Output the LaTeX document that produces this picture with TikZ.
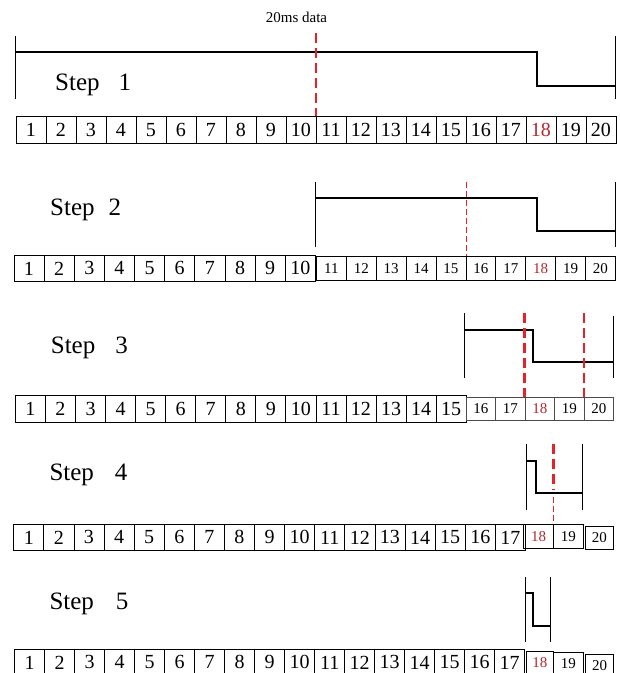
\documentclass[tikz,border=0pt]{standalone}
\usepackage{fontspec}
\setmainfont{Liberation Serif}
\definecolor{dashred}{RGB}{232,32,40}
\definecolor{numred}{RGB}{180,40,45}
\tikzset{
  cell/.style={draw, line width=0.8pt, anchor=north west, inner sep=0pt, font=\fontsize{20}{23}\selectfont},
  smallcell/.style={cell, font=\fontsize{15}{18}\selectfont},
  edge/.style={line width=0.8pt},
  wave/.style={line width=1.8pt},
  marker/.style={dashred, line width=2.2pt, dash pattern=on 10pt off 5pt},
  thinmarker/.style={dashred, line width=1.3pt, dash pattern=on 6pt off 3pt},
  steplabel/.style={anchor=base west, inner sep=0pt, font=\fontsize{25}{30}\selectfont},
}
\begin{document}
\begin{tikzpicture}[x=1pt,y=-1pt]
\useasboundingbox (0,0) rectangle (620,673);
\clip (0,0) rectangle (620,673);

% ---------- Step 1 ----------
\node[anchor=center, inner sep=0pt, font=\fontsize{15}{18}\selectfont] (t20) at (296.5,17.5) {20ms data};
\node[steplabel] (s1) at (55,90.5) {Step\hspace{19pt}1};
\foreach \i in {1,...,20} {
  \edef\tc{\ifnum\i=18 numred\else black\fi}
  \node[cell, text=\tc, minimum width=30pt, minimum height=27pt] (r1-\i) at ({15.5+30*(\i-1)},116) {\i};
}
\coordinate (a1t) at (15.7,36); \coordinate (a1b) at (15.7,99);
\coordinate (b1t) at (615,36);  \coordinate (b1b) at (615,99);
\draw[edge] (a1t) -- (a1b);
\draw[edge] (b1t) -- (b1b);
\draw[wave] (15.7,52.3) -- (536.7,52.3) -- (536.7,85.7) -- (615,85.7);
\coordinate (m1) at (316,33);
\draw[marker] (m1) -- (m1 |- r1-10.north east);

% ---------- Step 2 ----------
\node[steplabel] (s2) at (50,215) {Step\hspace{14pt}2};
\foreach \i in {1,...,10} {
  \node[cell, minimum width=30.15pt, minimum height=26pt] (r2-\i) at ({13.5+30.15*(\i-1)},255) {\i};
}
\foreach \i in {11,...,20} {
  \edef\tc{\ifnum\i=18 numred\else black\fi}
  \node[smallcell, text=\tc, minimum width=29.9pt, minimum height=23.5pt] (r2-\i) at ({316+29.9*(\i-11)},256) {\i};
}
\draw[edge] (315.7,182) -- (315.7,247);
\draw[edge] (615,182) -- (615,247);
\draw[wave] (315.7,198.3) -- (536.7,198.3) -- (536.7,231) -- (615,231);
\coordinate (m2) at (466.5,182);
\draw[thinmarker] (m2) -- (m2 |- r2-16.north west);

% ---------- Step 3 ----------
\node[steplabel] (s3) at (50.7,353) {Step\hspace{20pt}3};
\foreach \i in {1,...,15} {
  \node[cell, minimum width=30.05pt, minimum height=27pt] (r3-\i) at ({15+30.05*(\i-1)},395) {\i};
}
\foreach \i in {16,...,20} {
  \edef\tc{\ifnum\i=18 numred\else black\fi}
  \node[smallcell, draw=black!70, text=\tc, minimum width=29.5pt, minimum height=22.5pt] (r3-\i) at ({465.7+29.5*(\i-16)},397) {\i};
}
\draw[edge] (464,313) -- (464,378);
\draw[edge] (613,316) -- (613,378);
\draw[wave] (464,330) -- (533,330) -- (533,362) -- (613,362);
\coordinate (m3a) at (524.5,313);
\coordinate (m3b) at (584,313);
\draw[marker] (m3a) -- (m3a |- r3-18.north west);
\draw[marker] (m3b) -- (m3b |- r3-20.north west);

% ---------- Step 4 ----------
\node[steplabel] (s4) at (49.3,480.7) {Step\hspace{21pt}4};
\foreach \i in {1,...,17} {
  \node[cell, minimum width=30.1pt, minimum height=26pt] (r4-\i) at ({13.3+30.1*(\i-1)},524) {\i};
}
\foreach \i in {18,19} {
  \edef\tc{\ifnum\i=18 numred\else black\fi}
  \node[smallcell, text=\tc, minimum width=29.7pt, minimum height=24pt] (r4-\i) at ({523.3+29.7*(\i-18)},524) {\i};
}
\node[smallcell, minimum width=28pt, minimum height=23pt] (r4-20) at (585,526) {20};
\draw[edge] (526.7,444) -- (526.7,510);
\draw[edge] (582.7,444) -- (582.7,510);
\draw[wave] (526.7,460.7) -- (535.7,460.7) -- (535.7,492.7) -- (582.7,492.7);
\coordinate (m4a) at (553.5,444);
\coordinate (m4b) at (553.5,490);
\coordinate (m4c) at (553.5,497);
\draw[marker] (m4a) -- (m4b);
\draw[thinmarker] (m4c) -- (m4c |- r4-19.north west);

% ---------- Step 5 ----------
\node[steplabel] (s5) at (49.3,609.3) {Step\hspace{22pt}5};
\foreach \i in {1,...,17} {
  \node[cell, minimum width=30pt, minimum height=26pt] (r5-\i) at ({14.3+30*(\i-1)},649) {\i};
}
\node[smallcell, text=numred, minimum width=27.6pt, minimum height=23pt] (r5-18) at (525.7,650.7) {18};
\node[smallcell, minimum width=29.4pt, minimum height=23pt] (r5-19) at (553.3,651.7) {19};
\node[smallcell, minimum width=28.3pt, minimum height=23pt] (r5-20) at (585,654) {20};
\draw[edge] (525.7,577) -- (525.7,641.7);
\draw[edge] (550,577) -- (550,641.7);
\draw[wave] (525.7,592.7) -- (533.3,592.7) -- (533.3,625.7) -- (550,625.7);
\end{tikzpicture}
\end{document}
